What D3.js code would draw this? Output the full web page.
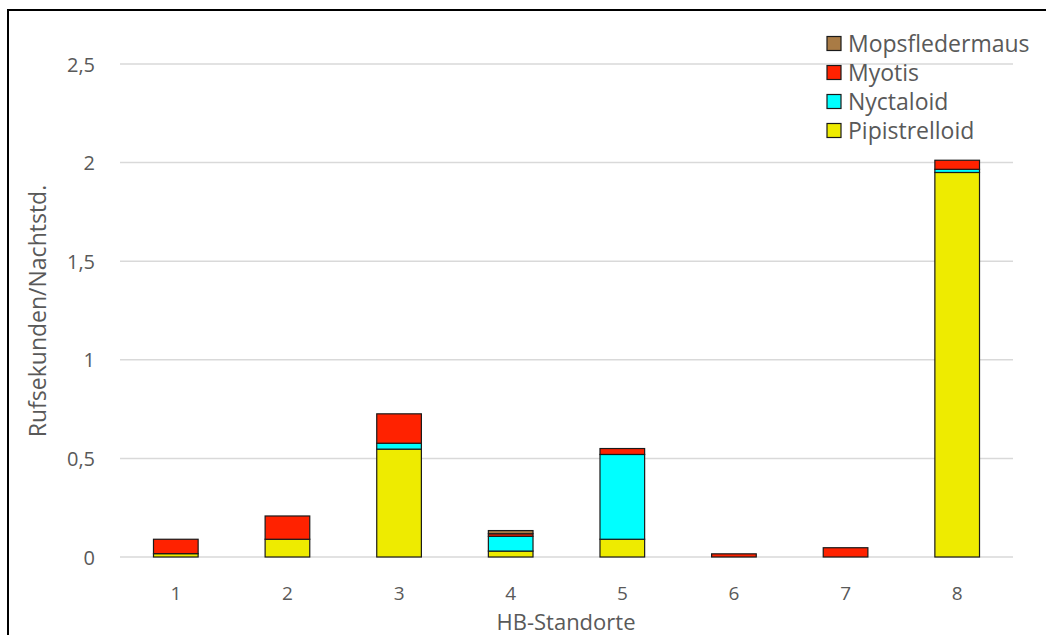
<!DOCTYPE html>
<html>
<head>
<meta charset="utf-8">
<script src="https://cdn.jsdelivr.net/npm/d3@7"></script>
<style>
  html, body { margin: 0; padding: 0; background: #fff; }
  svg { display: block; font-family: "Open Sans", sans-serif; }
</style>
</head>
<body>
<svg id="chart" width="1046" height="635"></svg>
<script>
// Sites and call-seconds per night hour, per bat group
const categories = ["1", "2", "3", "4", "5", "6", "7", "8"];
const pipistrelloid = [0.017, 0.09, 0.547, 0.03, 0.09, 0, 0, 1.95];
const nyctaloid     = [0, 0, 0.03, 0.075, 0.43, 0, 0, 0.016];
const myotis        = [0.073, 0.118, 0.149, 0.013, 0.03, 0.016, 0.047, 0.046];
const mopsfledermaus = [0, 0, 0, 0.016, 0, 0, 0, 0];
const yTicks = [0, 0.5, 1, 1.5, 2, 2.5];

const seriesNames = ["Pipistrelloid", "Nyctaloid", "Myotis", "Mopsfledermaus"];
const seriesValues = [pipistrelloid, nyctaloid, myotis, mopsfledermaus];
const colors = {
  "Pipistrelloid": "#eeeb00",
  "Nyctaloid": "#00ffff",
  "Myotis": "#ff2200",
  "Mopsfledermaus": "#a97b45"
};

const rows = categories.map((c, i) => {
  const r = { site: c };
  seriesNames.forEach((s, k) => { r[s] = seriesValues[k][i]; });
  return r;
});

const svg = d3.select("#chart");

// outer frame
svg.append("rect")
  .attr("x", 8).attr("y", 10)
  .attr("width", 1100).attr("height", 700)
  .attr("fill", "none").attr("stroke", "#000").attr("stroke-width", 2);

const x = d3.scaleBand().domain(categories).range([120, 1013])
  .paddingInner(0.6).paddingOuter(0.3);
const y = d3.scaleLinear().domain([0, 2.5]).range([557, 64]);

const fmt = v => String(v).replace(".", ",");

// gridlines
svg.append("g").selectAll("line").data(yTicks).join("line")
  .attr("x1", 120).attr("x2", 1013)
  .attr("y1", d => y(d)).attr("y2", d => y(d))
  .attr("stroke", "#d9d9d9").attr("stroke-width", 1.5);

// y axis labels
const yAxis = d3.axisLeft(y).tickValues(yTicks).tickFormat(fmt).tickSize(0).tickPadding(0);
const yg = svg.append("g").attr("transform", "translate(95,0)").call(yAxis);
yg.select(".domain").remove();
yg.selectAll("text").attr("font-size", 20).attr("fill", "#595959")
  .attr("font-family", "Open Sans, sans-serif").attr("dy", "0.35em");

// x axis labels
const xAxis = d3.axisBottom(x).tickSize(0).tickPadding(0);
const xg = svg.append("g").attr("transform", "translate(0,594)").call(xAxis);
xg.select(".domain").remove();
xg.selectAll("text").attr("font-size", 19).attr("fill", "#595959")
  .attr("font-family", "Open Sans, sans-serif").attr("dy", "0.32em");

// stacked bars
const stack = d3.stack().keys(seriesNames);
const stacked = stack(rows);
svg.append("g").selectAll("g").data(stacked).join("g")
  .attr("fill", d => colors[d.key])
  .selectAll("rect")
  .data(d => d.filter(p => p[1] - p[0] > 0))
  .join("rect")
  .attr("x", d => x(d.data.site))
  .attr("width", x.bandwidth())
  .attr("y", d => y(d[1]))
  .attr("height", d => y(d[0]) - y(d[1]))
  .attr("stroke", "#1a1a1a").attr("stroke-width", 1.2);

// axis titles
svg.append("text")
  .attr("x", 566).attr("y", 622).attr("dy", "0.35em")
  .attr("text-anchor", "middle").attr("font-size", 22).attr("fill", "#595959")
  .text("HB-Standorte");

svg.append("text")
  .attr("transform", "translate(38,311) rotate(-90)")
  .attr("dy", "0.35em")
  .attr("text-anchor", "middle").attr("font-size", 23).attr("fill", "#595959")
  .text("Rufsekunden/Nachtstd.");

// legend
const legendOrder = ["Mopsfledermaus", "Myotis", "Nyctaloid", "Pipistrelloid"];
const lg = svg.append("g");
const items = lg.selectAll("g").data(legendOrder).join("g")
  .attr("transform", (d, i) => `translate(827,${43.5 + i * 29})`);
items.append("rect")
  .attr("x", 0).attr("y", -7).attr("width", 14).attr("height", 14)
  .attr("fill", d => colors[d]).attr("stroke", "#1a1a1a").attr("stroke-width", 1.2);
items.append("text")
  .attr("x", 21).attr("y", 0).attr("dy", "0.35em")
  .attr("font-size", 23).attr("fill", "#595959")
  .text(d => d);
</script>
</body>
</html>
